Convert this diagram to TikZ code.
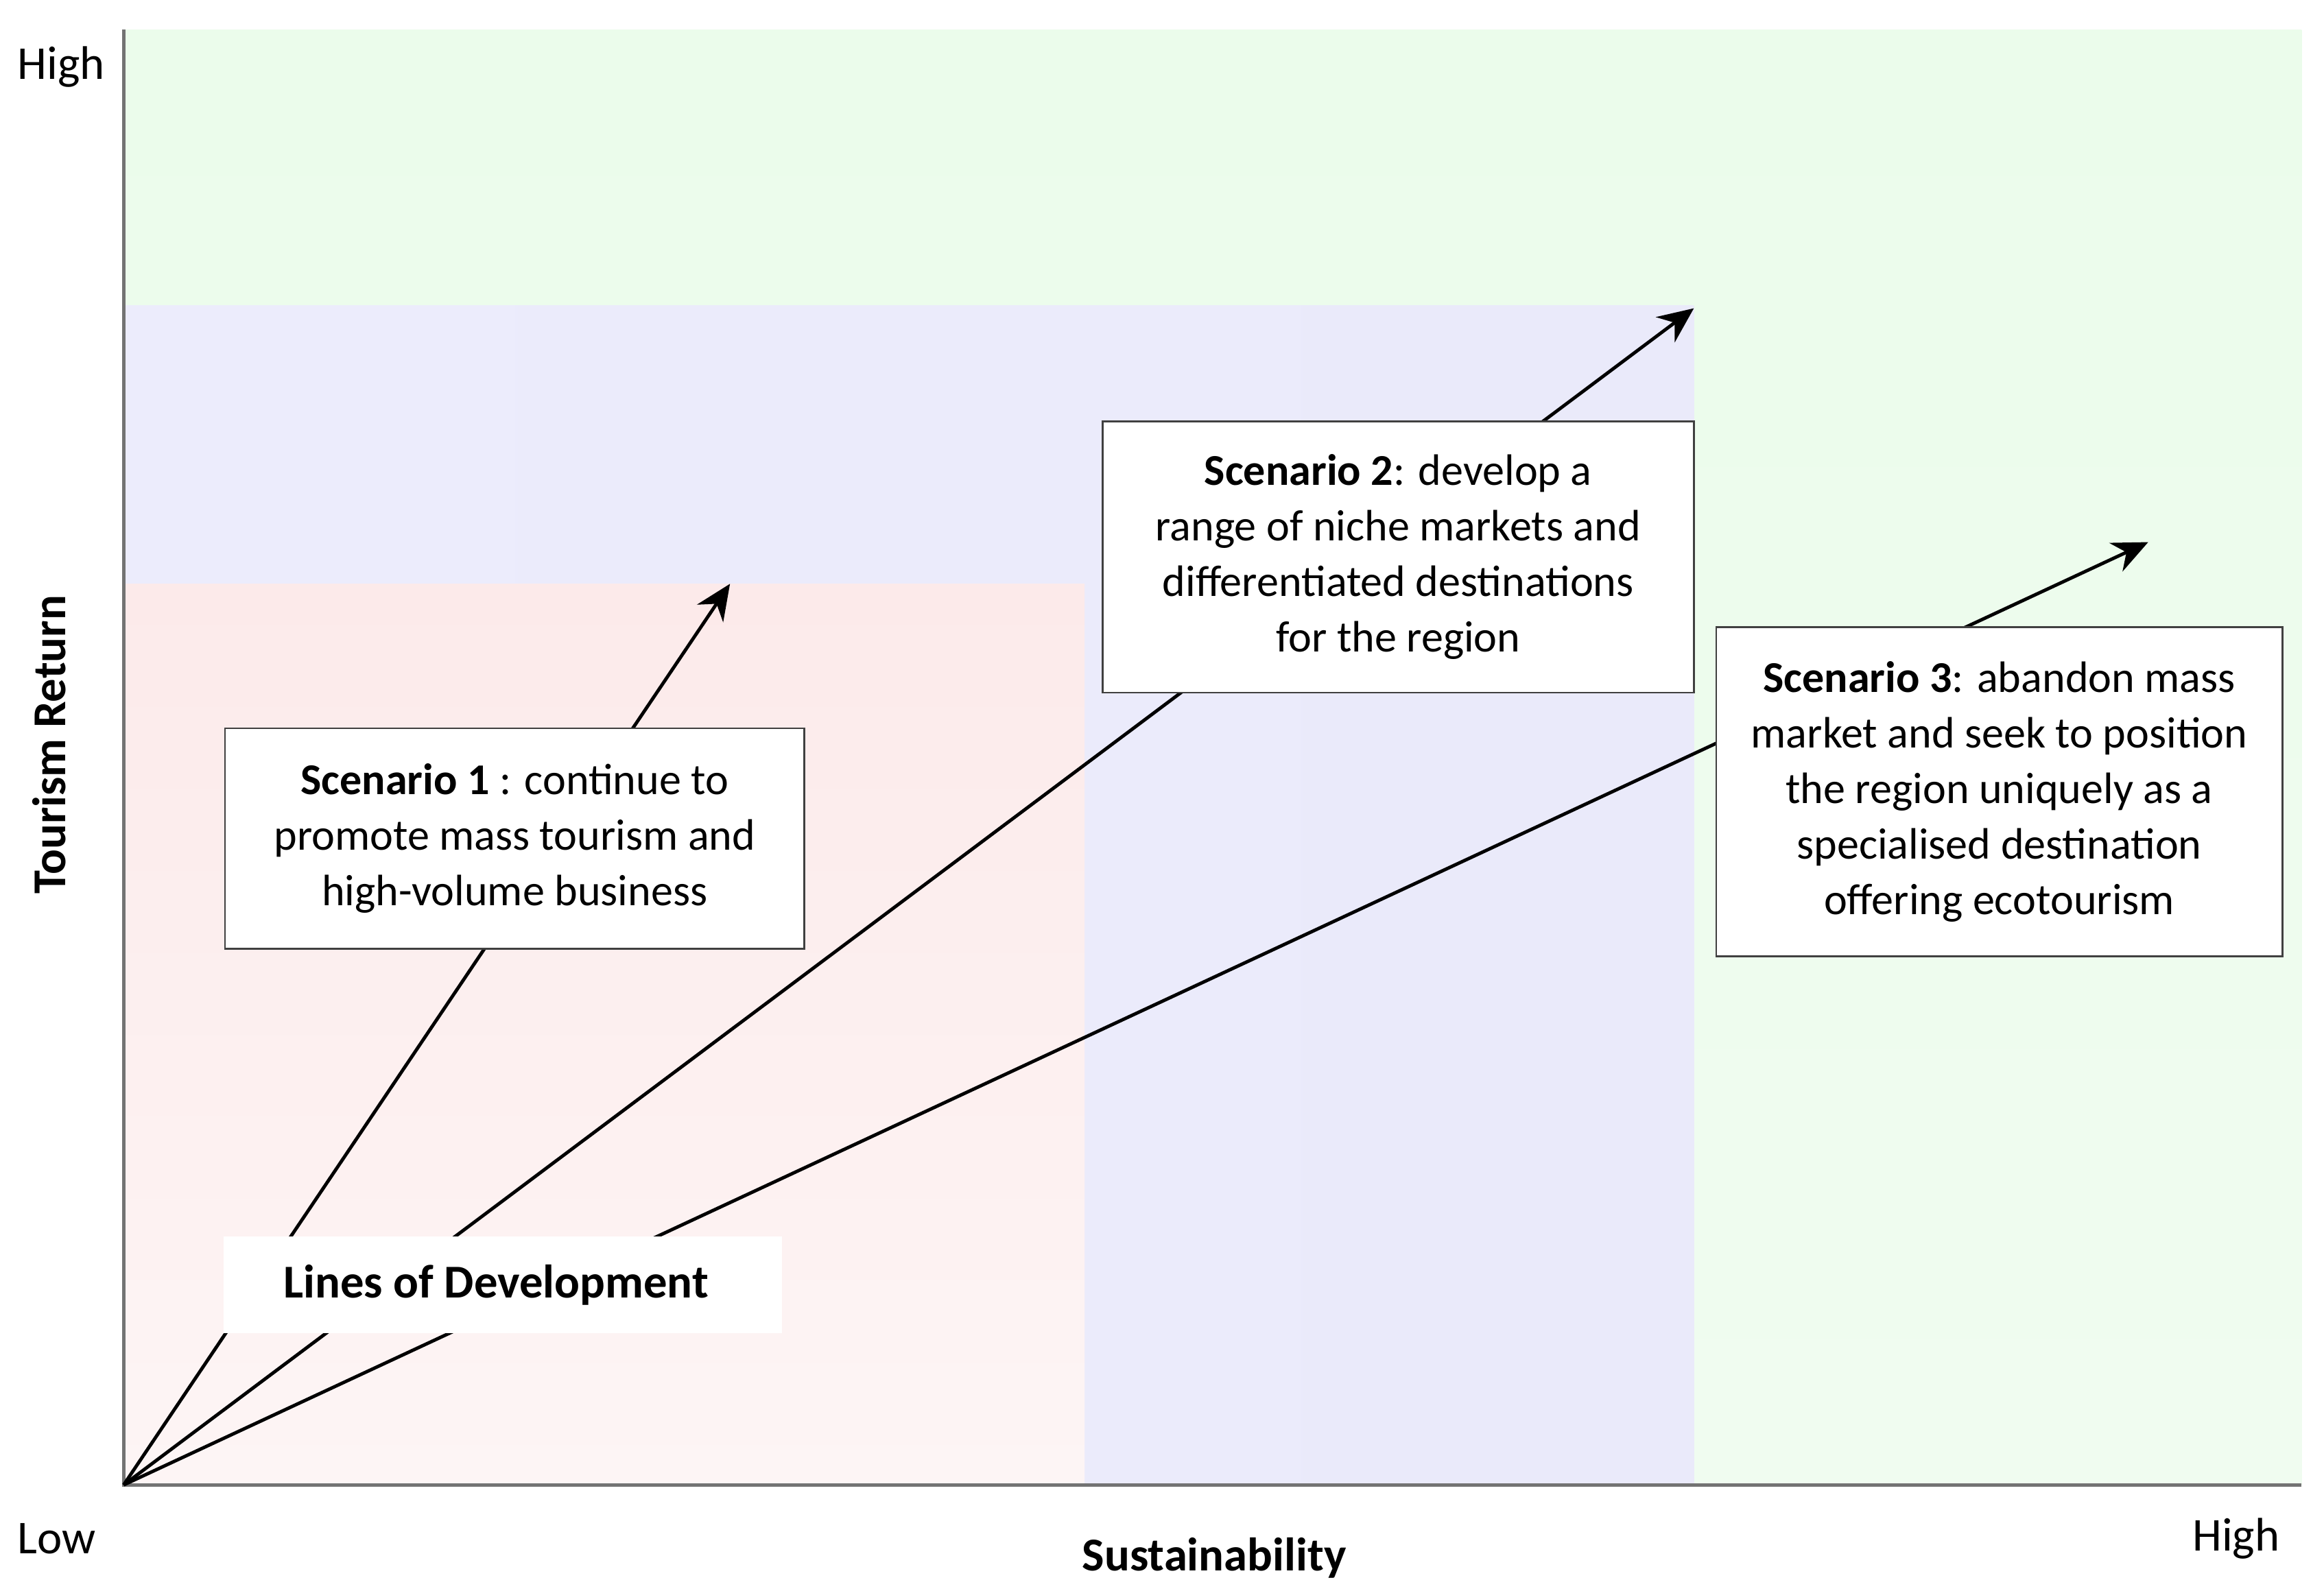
\documentclass[tikz,border=0pt]{standalone}
\usepackage{fontspec}
\setmainfont{Carlito}
\usetikzlibrary{arrows.meta}
\begin{document}
\begin{tikzpicture}[x=0.05cm,y=-0.05cm,
  txt/.style={font=\fontsize{42}{53}\selectfont},
  box/.style={draw=black!75,line width=1.8pt,fill=white,align=center,txt,inner sep=0pt},
  arr/.style={line width=3.2pt,-{Stealth[length=34pt,width=30pt]}},
  ax/.style={draw=black!55,line width=3pt}]
\useasboundingbox (0,0) rectangle (1560,1068);
\fill[white] (0,0) rectangle (1560,1068);
% background regions
\shade[top color={rgb,255:red,235;green,252;blue,235},bottom color={rgb,255:red,240;green,252;blue,240}] (83,20) rectangle (1545,997);
\shade[left color={rgb,255:red,236;green,236;blue,252},right color={rgb,255:red,234;green,234;blue,250}] (83,205) rectangle (1137,997);
\shade[top color={rgb,255:red,252;green,234;blue,234},bottom color={rgb,255:red,253;green,245;blue,245}] (83,392) rectangle (728,997);
% axes
\coordinate (O) at (83,997);
\coordinate (Ytop) at (83,20);
\coordinate (Xend) at (1545,997);
\draw[ax] (Ytop) -- (O) -- (Xend);
\node[txt,font=\fontsize{45}{53}\selectfont] (hiY) at (41,45) {High};
\node[txt,font=\fontsize{45}{53}\selectfont] (lo) at (38,1033) {Low};
\node[txt,font=\fontsize{45}{53}\selectfont] (hiX) at (1501,1033) {High};
\node[txt,font=\fontsize{45}{53}\selectfont\bfseries] (xl) at (815,1046) {Sustainability};
\node[txt,font=\fontsize{45}{53}\selectfont\bfseries,rotate=90] (yl) at (33,500) {Tourism Return};
% arrows
\coordinate (t1) at (490,392);
\coordinate (t2) at (1137,207);
\coordinate (t3) at (1442,364);
\draw[arr] (O) -- (t1);
\draw[arr] (O) -- (t2);
\draw[arr] (O) -- (t3);
% boxes
\node[box,minimum width=389*0.05cm,minimum height=148*0.05cm] (s1) at (345.5,563) {\textbf{Scenario 1} : continue to\\promote mass tourism and\\high-volume business};
\node[box,minimum width=397*0.05cm,minimum height=182*0.05cm] (s2) at (938.5,374) {\textbf{Scenario 2}: develop a\\range of niche markets and\\differentiated destinations\\for the region};
\node[box,minimum width=380*0.05cm,minimum height=221*0.05cm] (s3) at (1342,531.5) {\textbf{Scenario 3}: abandon mass\\market and seek to position\\the region uniquely as a\\specialised destination\\offering ecotourism};
\node[fill=white,minimum width=375*0.05cm,minimum height=65*0.05cm,inner sep=0pt] (ld) at (337.5,862.5) {};
\node[txt,font=\fontsize{45}{53}\selectfont\bfseries] (ldt) at (333,863) {Lines of Development};
\end{tikzpicture}
\end{document}
